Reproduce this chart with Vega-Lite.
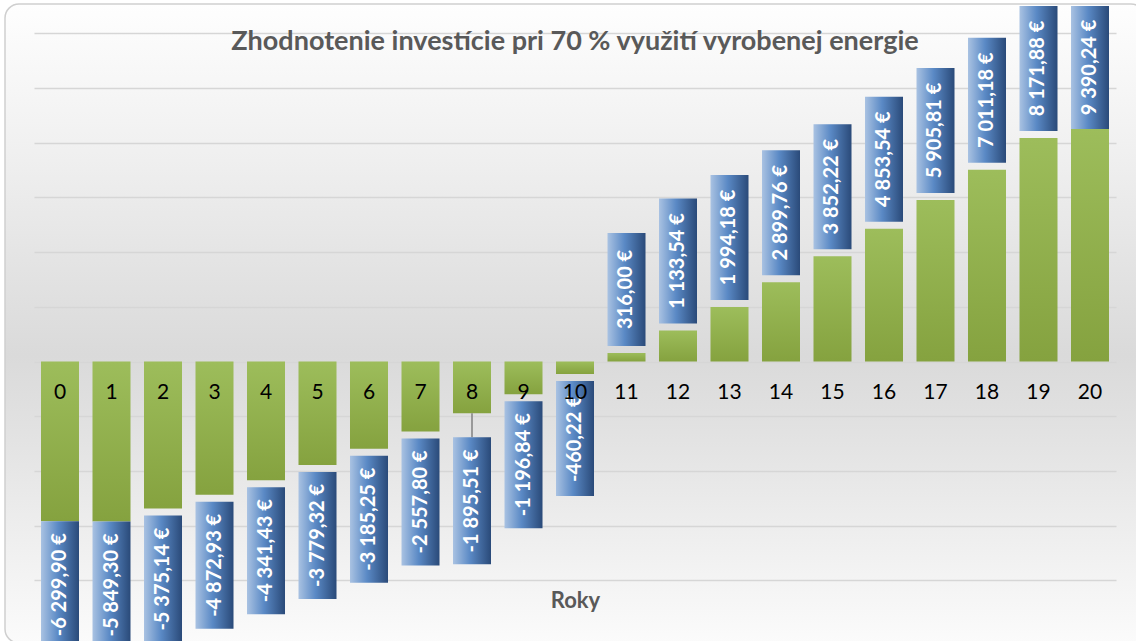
{
  "$schema": "https://vega.github.io/schema/vega-lite/v6.json",
  "width": 1140,
  "height": 639,
  "autosize": "none",
  "padding": {"left": 5, "top": 4, "right": 0, "bottom": 0},
  "background": "#ffffff",
  "title": {
    "text": "Zhodnotenie investície pri 70 % využití vyrobenej energie",
    "font": "Lato",
    "fontSize": 27,
    "fontWeight": "bold",
    "color": "#595959",
    "anchor": "middle",
    "frame": "group",
    "orient": "top",
    "offset": 0,
    "baseline": "alphabetic",
    "dy": 73
  },
  "config": {
    "font": "Lato",
    "locale": {"number": {"decimal": ",", "thousands": " ", "grouping": [3], "currency": ["", " €"], "minus": "-"}},
    "view": {
      "stroke": "#cfcfcf",
      "strokeWidth": 1.5,
      "cornerRadius": 14,
      "fill": {
        "gradient": "linear", "x1": 0, "y1": 0, "x2": 0, "y2": 1,
        "stops": [
          {"offset": 0, "color": "#fefefe"},
          {"offset": 0.15, "color": "#f5f5f5"},
          {"offset": 0.23, "color": "#f0f0f0"},
          {"offset": 0.4, "color": "#e4e4e4"},
          {"offset": 0.55, "color": "#dadada"},
          {"offset": 0.67, "color": "#e2e2e2"},
          {"offset": 0.8, "color": "#ececec"},
          {"offset": 0.92, "color": "#f5f5f5"},
          {"offset": 1, "color": "#fbfbfb"}
        ]
      }
    }
  },
  "data": {
    "values": [
      {"year": 0, "value": -6299.90, "bar": -5840},
      {"year": 1, "value": -5849.30, "bar": -5849.30},
      {"year": 2, "value": -5375.14, "bar": -5375.14},
      {"year": 3, "value": -4872.93, "bar": -4872.93},
      {"year": 4, "value": -4341.43, "bar": -4341.43},
      {"year": 5, "value": -3779.32, "bar": -3779.32},
      {"year": 6, "value": -3185.25, "bar": -3185.25},
      {"year": 7, "value": -2557.80, "bar": -2557.80},
      {"year": 8, "value": -1895.51, "bar": -1895.51},
      {"year": 9, "value": -1196.84, "bar": -1196.84},
      {"year": 10, "value": -460.22, "bar": -460.22},
      {"year": 11, "value": 316.00, "bar": 316.00},
      {"year": 12, "value": 1133.54, "bar": 1133.54},
      {"year": 13, "value": 1994.18, "bar": 1994.18},
      {"year": 14, "value": 2899.76, "bar": 2899.76},
      {"year": 15, "value": 3852.22, "bar": 3852.22},
      {"year": 16, "value": 4853.54, "bar": 4853.54},
      {"year": 17, "value": 5905.81, "bar": 5905.81},
      {"year": 18, "value": 7011.18, "bar": 7011.18},
      {"year": 19, "value": 8171.88, "bar": 8171.88},
      {"year": 20, "value": 9390.24, "bar": 8500}
    ]
  },
  "encoding": {
    "x": {
      "field": "year",
      "type": "ordinal",
      "scale": {"paddingInner": 0.262, "paddingOuter": 0.699, "align": 0.5},
      "axis": {
        "orient": "bottom",
        "labels": false,
        "ticks": false,
        "domain": false,
        "grid": false,
        "title": "Roky",
        "titleFont": "Lato",
        "titleFontSize": 22,
        "titleFontWeight": "bold",
        "titleColor": "#595959",
        "titleBaseline": "alphabetic",
        "titleY": -36
      }
    },
    "y": {
      "field": "bar",
      "type": "quantitative",
      "scale": {"domain": [-10290, 13070], "nice": false, "zero": false},
      "axis": {
        "orient": "left",
        "offset": -29,
        "values": [-8000, -6000, -4000, -2000, 0, 2000, 4000, 6000, 8000, 10000, 12000],
        "labels": false,
        "domain": false,
        "grid": false,
        "ticks": true,
        "tickSize": -1082,
        "tickColor": "#d6d6d6",
        "tickWidth": 1.5,
        "title": null
      }
    }
  },
  "layer": [
    {
      "mark": {
        "type": "bar",
        "fill": {
          "gradient": "linear", "x1": 0, "y1": 0, "x2": 0, "y2": 1,
          "stops": [{"offset": 0, "color": "#9dbd5b"}, {"offset": 1, "color": "#85a23f"}]
        }
      }
    },
    {
      "transform": [{"filter": "datum.year == 8"}],
      "mark": {"type": "rule", "color": "#808080", "strokeWidth": 1.5, "y2Offset": 24},
      "encoding": {"y2": {"field": "bar"}}
    },
    {
      "mark": {
        "type": "rect",
        "fill": {
          "gradient": "linear", "x1": 0, "y1": 0, "x2": 1, "y2": 0,
          "stops": [
            {"offset": 0, "color": "#a9c2e2"},
            {"offset": 0.45, "color": "#5a89c5"},
            {"offset": 1, "color": "#2a4a79"}
          ]
        },
        "yOffset": {"expr": "(datum.value<0?1:-1)*(datum.year<=1||datum.year==20?0:datum.year==8?24:7)"},
        "y2Offset": {"expr": "(datum.value<0?1:-1)*((datum.year<=1||datum.year==20?0:datum.year==8?24:7)+(datum.year==20?123:abs(datum.value)<1000?(datum.value>0?113:115):(datum.value>0?125:127)))"}
      },
      "encoding": {"y2": {"field": "bar"}}
    },
    {
      "mark": {
        "type": "text",
        "angle": 270,
        "align": "center",
        "baseline": "middle",
        "color": "#ffffff",
        "font": "Lato",
        "fontWeight": "bold",
        "fontSize": 20,
        "yOffset": {"expr": "(datum.value<0?1:-1)*((datum.year<=1||datum.year==20?0:datum.year==8?24:7)+(datum.year==20?123:abs(datum.value)<1000?(datum.value>0?113:115):(datum.value>0?125:127))/2)"}
      },
      "encoding": {"text": {"field": "value", "type": "quantitative", "format": "$,.2f"}}
    },
    {
      "mark": {"type": "text", "font": "Lato", "fontSize": 21, "color": "#000000", "baseline": "middle", "align": "center", "dy": 31},
      "encoding": {
        "y": {"datum": 0},
        "text": {"field": "year", "type": "ordinal"}
      }
    }
  ]
}
